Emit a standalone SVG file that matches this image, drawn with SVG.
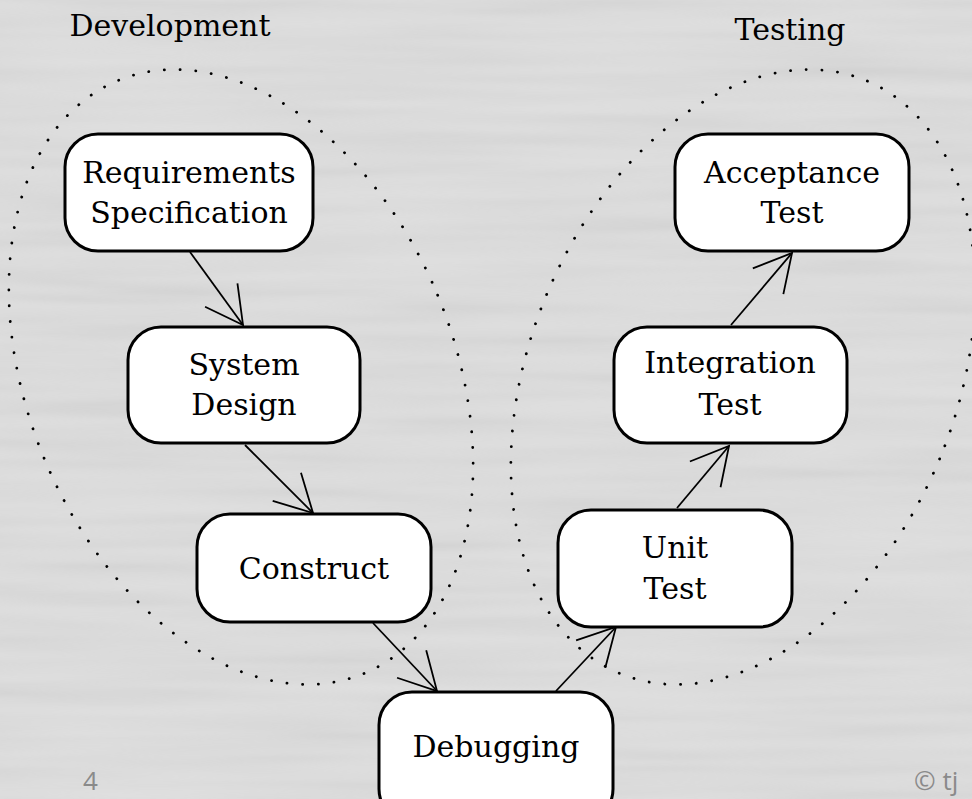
<svg xmlns="http://www.w3.org/2000/svg" width="972" height="799" viewBox="0 0 972 799">
<style>
.box{fill:#fff;stroke:#000;stroke-width:3}
.lbl{font-family:"DejaVu Serif","Liberation Serif",serif;font-size:30px;fill:#000;text-anchor:middle}
.edge{stroke:#000;stroke-width:1.8;fill:none;marker-end:url(#arr)}
.dots{fill:none;stroke:#000;stroke-width:2.8;stroke-linecap:round;stroke-dasharray:0.1 15.6}
.foot{font-family:"Open Sans","Liberation Sans",sans-serif;font-size:26px;fill:#8a8a8a}
</style>
<defs>
<marker id="arr" markerUnits="userSpaceOnUse" markerWidth="50" markerHeight="50" refX="0" refY="0" viewBox="-45 -25 50 50" orient="auto" overflow="visible">
<path d="M-37,-20 L0,0 L-37,20" fill="none" stroke="#000" stroke-width="1.8"/>
</marker>
<filter id="tex" x="0" y="0" width="100%" height="100%">
<feTurbulence type="fractalNoise" baseFrequency="0.004 0.06" numOctaves="2" seed="3"/>
<feColorMatrix type="saturate" values="0"/>
</filter>
</defs>
<rect width="972" height="799" fill="#dedede"/>
<rect width="972" height="799" filter="url(#tex)" opacity="0.18"/>
<g id="ellipses">
<ellipse class="dots" cx="241" cy="377" rx="213" ry="321" transform="rotate(-22.6 241 377)"/>
<ellipse class="dots" cx="743" cy="377" rx="213" ry="321" transform="rotate(22.6 743 377)"/>
</g>
<g id="titles">
<text class="lbl" x="170" y="36">Development</text>
<text class="lbl" x="790" y="40">Testing</text>
</g>
<g id="connectors">
<line class="edge" x1="190" y1="252" x2="243" y2="325"/>
<line class="edge" x1="245" y1="445" x2="313" y2="513"/>
<line class="edge" x1="373" y1="623" x2="437" y2="691"/>
<line class="edge" x1="556" y1="691" x2="616" y2="627"/>
<line class="edge" x1="677" y1="508" x2="729" y2="446"/>
<line class="edge" x1="731" y1="325" x2="792" y2="253"/>
</g>
<g id="req">
<rect class="box" x="65" y="134" width="248" height="117" rx="33"/>
<text class="lbl" x="189" y="183">Requirements</text>
<text class="lbl" x="189" y="223">Specification</text>
</g>
<g id="design">
<rect class="box" x="128" y="327" width="232" height="116" rx="33"/>
<text class="lbl" x="244" y="375">System</text>
<text class="lbl" x="244" y="415">Design</text>
</g>
<g id="construct">
<rect class="box" x="197" y="514" width="234" height="108" rx="33"/>
<text class="lbl" x="314" y="579">Construct</text>
</g>
<g id="debugging">
<rect class="box" x="379" y="692" width="234" height="130" rx="33"/>
<text class="lbl" x="496" y="757">Debugging</text>
</g>
<g id="unit">
<rect class="box" x="558" y="510" width="234" height="117" rx="33"/>
<text class="lbl" x="675" y="558">Unit</text>
<text class="lbl" x="675" y="599">Test</text>
</g>
<g id="integration">
<rect class="box" x="614" y="327" width="233" height="116" rx="33"/>
<text class="lbl" x="730" y="373">Integration</text>
<text class="lbl" x="730" y="415">Test</text>
</g>
<g id="acceptance">
<rect class="box" x="675" y="134" width="234" height="117" rx="33"/>
<text class="lbl" x="792" y="183">Acceptance</text>
<text class="lbl" x="792" y="223">Test</text>
</g>
<g id="footer">
<text class="foot" x="83" y="790">4</text>
<text class="foot" x="914" y="790">© tj</text>
</g>
</svg>
